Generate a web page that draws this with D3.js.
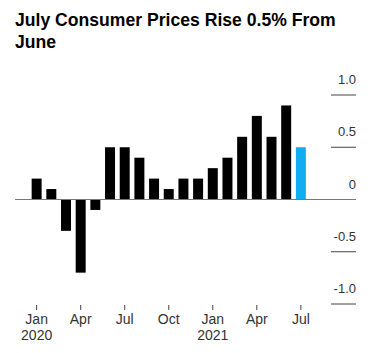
<!DOCTYPE html>
<html>
<head>
<meta charset="utf-8">
<script src="https://cdn.jsdelivr.net/npm/d3@7"></script>
<style>
  body { margin: 0; background: #fff; }
  text { font-family: "Liberation Sans", Arial, sans-serif; }
</style>
</head>
<body>
<div id="chart-area"></div>
<script>
// Data: monthly CPI change, %
var months = ["Jan 2020", "Feb 2020", "Mar 2020", "Apr 2020", "May 2020", "Jun 2020",
    "Jul 2020", "Aug 2020", "Sep 2020", "Oct 2020", "Nov 2020", "Dec 2020",
    "Jan 2021", "Feb 2021", "Mar 2021", "Apr 2021", "May 2021", "Jun 2021", "Jul 2021"];
var values = [0.2, 0.1, -0.3, -0.7, -0.1, 0.5, 0.5, 0.4, 0.2, 0.1, 0.2, 0.2,
    0.3, 0.4, 0.6, 0.8, 0.6, 0.9, 0.5];
var yTicks = [1.0, 0.5, 0, -0.5, -1.0];
var yTickLabels = ["1.0", "0.5", "0", "-0.5", "-1.0"];
var xTickMonths = ["Jan 2020", "Apr 2020", "Jul 2020", "Oct 2020", "Jan 2021", "Apr 2021", "Jul 2021"];
var xTickLabels = ["Jan", "Apr", "Jul", "Oct", "Jan", "Apr", "Jul"];
var xTickYears = ["2020", "", "", "", "2021", "", ""];

var data = months.map(function (m, i) { return { month: m, value: values[i] }; });

var width = 384, height = 353;

var svg = d3.select("#chart-area")
    .append("svg")
    .attr("width", width)
    .attr("height", height);

// Title
var title = svg.append("text")
    .attr("x", 15)
    .attr("y", 26)
    .attr("font-size", 17.6)
    .attr("font-weight", "bold")
    .attr("fill", "#000");
title.append("tspan").attr("x", 15).text("July Consumer Prices Rise 0.5% From");
title.append("tspan").attr("x", 15).attr("dy", 22).text("June");

// SCALES
var x = d3.scaleBand()
    .domain(months)
    .range([29.3, 308.2])
    .paddingInner(0.32)
    .paddingOuter(0.16);

var y = d3.scaleLinear()
    .domain([-1, 1])
    .range([304, 95]);

// y-axis ticks: short lines with labels above
var yt = svg.append("g").selectAll("g")
    .data(yTicks)
    .enter().append("g");

yt.append("line")
    .attr("x1", 331).attr("x2", 356)
    .attr("y1", function (d) { return y(d); })
    .attr("y2", function (d) { return y(d); })
    .attr("stroke", "#444")
    .attr("stroke-width", 1);

yt.append("text")
    .attr("x", 356)
    .attr("y", function (d) { return y(d) - 11; })
    .attr("text-anchor", "end")
    .attr("font-size", 13)
    .attr("fill", "#333")
    .text(function (d, i) { return yTickLabels[i]; });

// Bars
svg.append("g").selectAll("rect")
    .data(data)
    .enter()
    .append("rect")
    .attr("x", function (d) { return x(d.month); })
    .attr("y", function (d) { return y(Math.max(0, d.value)); })
    .attr("width", x.bandwidth())
    .attr("height", function (d) { return Math.abs(y(d.value) - y(0)); })
    .attr("fill", function (d, i) { return i === data.length - 1 ? "#12acf4" : "#000"; });

// zero line
svg.append("line")
    .attr("x1", 15).attr("x2", 356)
    .attr("y1", y(0)).attr("y2", y(0))
    .attr("stroke", "#777")
    .attr("stroke-width", 1);

// x-axis ticks
var xt = svg.append("g").selectAll("g")
    .data(xTickMonths)
    .enter().append("g")
    .attr("transform", function (d) { return "translate(" + (x(d) + x.bandwidth() / 2) + ",0)"; });

xt.append("line")
    .attr("y1", 305).attr("y2", 310)
    .attr("stroke", "#444");

xt.append("text")
    .attr("y", 324)
    .attr("text-anchor", "middle")
    .attr("font-size", 14)
    .attr("fill", "#333")
    .text(function (d, i) { return xTickLabels[i]; });

xt.append("text")
    .attr("y", 340)
    .attr("text-anchor", "middle")
    .attr("font-size", 14)
    .attr("fill", "#333")
    .text(function (d, i) { return xTickYears[i]; });
</script>
</body>
</html>
